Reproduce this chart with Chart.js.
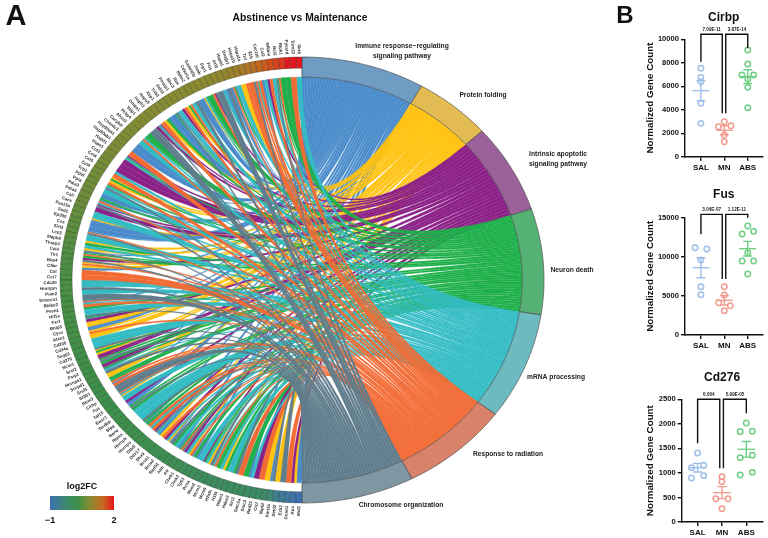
<!DOCTYPE html>
<html>
<head>
<meta charset="utf-8">
<title>Abstinence vs Maintenance</title>
<script src="https://cdn.jsdelivr.net/npm/chart.js@4"></script>
<style>
  body { margin: 0; background: #fff; }
  canvas { position: absolute; }
</style>
</head>
<body>
<canvas id="chord" width="640" height="538" style="left:0;top:0"></canvas>
<canvas id="cirbp" width="128" height="180" style="left:640px;top:0"></canvas>
<canvas id="fus" width="128" height="180" style="left:640px;top:180px"></canvas>
<canvas id="cd276" width="128" height="180" style="left:640px;top:358px"></canvas>
<script>
// Panel A data
const termNames = [
    ['Immune response\u2212regulating', 'signaling pathway'],
    ['Protein folding'],
    ['Intrinsic apoptotic', 'signaling pathway'],
    ['Neuron death'],
    ['mRNA processing'],
    ['Response to radiation'],
    ['Chromosome organization']
];
const termSpans = [29.6, 18.5, 23.3, 27.6, 28, 26, 27];
const termCodes = ['b', 'y', 'p', 'g', 't', 'o', 's'];

const geneNames = [
    'Sirt6','Trim32','Pycard','Ripk1','Bcl3','Nfkbia','Ccl2','Cxcl10','Il1b','Tnf',
    'Hspa1a','Hspa1b','Dnajb1','Hspb1','Atf3','Fos','Egr1','Junb','Gadd45b','Cdkn1a',
    'Mdm2','Bax','Bbc3','Pmaip1','Ddit3','Trib3','Xbp1','Hspa5','Hsph1','Dnaja1',
    'Stip1','Fkbp4','Ahsa1','Cacybp','Chordc1','Hsp90aa1','Hsp90ab1','Hspd1','Hspe1','Cct3',
    'Cct4','Cct5','Cct8','Tcp1','Ppid','Ppia','Pdia3','Pdia6','Calr','Canx',
    'Pea15a','Sod2','Ep300','Ccs','Sirt3','Lcp2','Mapk8','Thrap3','Ccl4','Tlr1',
    'Bbs4','Cflar','Cat','Cct7','Cdc20','Hnrnpm','Pum2','Smarca1','Bhlhe2','Psen1',
    'Hif1a','Fxr1','Bnip3','Cycs','Atxn1','Cd200','Cd24a','Sugp1','Cd276','Ncor1',
    'Srsf2','Psip1','Hnrnpa1','Snrpd1','Srsf5','Sf3b1','Rbm3','Cirbp','Fus','Taf15',
    'Ewsr1','Tardbp','Sfpq','Nono','Rbmx','Hnrnpk','Hnrnpu','Ddx5','Ddx17','Dhx9',
    'Brca1','Brca2','Rad51','Atm','Atr','Chek1','Chek2','Tp53','Pcna','Mcm2',
    'Mcm3','Mcm5','H2afx','H1f0','Hdac1','Hdac2','Sirt1','Smc1a','Smc3','Rad21',
    'Ctcf','Nipbl','Kmt2a','Setd2','Ezh2','Dnmt1','Atrx','Mcl1'
];

const geneFC = [
    2.0,2.0,2.0,1.8,1.72,1.65,1.55,1.45,1.35,1.25,
    1.18,1.1,1.05,1.0,0.96,0.95,0.94,0.93,0.92,0.91,
    0.9,0.9,0.89,0.89,0.88,0.88,0.87,0.87,0.86,0.86,
    0.85,0.84,0.83,0.82,0.81,0.8,0.79,0.78,0.77,0.76,
    0.75,0.74,0.73,0.72,0.71,0.7,0.69,0.68,0.66,0.64,
    0.62,0.6,0.58,0.56,0.54,0.52,0.5,0.48,0.46,0.44,
    0.42,0.41,0.41,0.4,0.4,0.39,0.39,0.38,0.38,0.37,
    0.37,0.36,0.36,0.35,0.35,0.34,0.34,0.33,0.33,0.32,
    0.32,0.31,0.31,0.3,0.3,0.29,0.29,0.28,0.28,0.27,
    0.27,0.26,0.26,0.25,0.25,0.24,0.24,0.23,0.22,0.21,
    0.2,0.18,0.16,0.14,0.12,0.1,0.08,0.06,0.04,0.02,
    0.0,-0.01,-0.02,-0.03,-0.04,-0.05,-0.06,-0.07,-0.09,-0.12,
    -0.15,-0.2,-0.3,-0.6,-0.7,-0.8,-0.9,-1.0
];

// which terms every gene links to, top of the circle to the bottom
const geneTerms = [
    't','o','g','g','ogst','to','pt','bo','tos','o',
    'oy','yt','tbgo','bs','bt','s','spo','g','gtyb','b',
    'st','tog','yo','pt','tbsg','b','bg','yo','opts','ps',
    's','g','gto','t','b','b','o','pbgt','p','p',
    'p','to','oyg','yo','gts','t','b','gbo','tps','p',
    't','tyb','b','b','bost','t','yg','ty','sbgo','gp',
    'syo','yb','o','o','t','ts','t','s','sobt','og',
    't','tsgb','py','yb','byo','y','t','t','syg','yp',
    'pgs','gp','pgbt','sy','yg','gob','os','s','otby','t',
    'pb','bgs','gt','t','t','sgb','go','to','pst','by',
    'op','tyb','sg','tb','gos','pt','yob','gb','t','pgt',
    'ys','tog','gt','yg','t','gs','o','g','bt','p',
    'o','y','bs','y','s','o','py','b'
];

const ribbonColors = ['#4a8ccb', '#ffc20e', '#8c2287', '#1fb04b', '#33bcc4', '#f26b35', '#5f7d8c'];
const termColors = ['#6f9cc3', '#e2bc52', '#9a619b', '#56b175', '#6dbbc0', '#d9826a', '#7f97a2'];
const fcStops = [
    [-1, '#3f6fb0'], [-0.2, '#3d8a6a'], [0.3, '#3d9048'],
    [0.9, '#8a8b30'], [1.5, '#c9651f'], [2, '#e5161e']
];

// Panel B data
const groupLabels = ['SAL', 'MN', 'ABS'];
const groupColors = ['#9dbfe8', '#f09d90', '#6fcf85'];

const cirbpValues = [[7528, 6760, 6390, 4545, 2840], [2983, 2642, 2557, 1847, 1278], [9090, 7898, 6960, 6960, 6620, 5909, 4176]];
const cirbpJitter = [[0, 0, 0, 0, 0], [0, 0.28, -0.25, 0, 0], [0, 0, -0.25, 0.25, 0, 0, 0]];
const cirbpMeans = [5625, 2250, 6818];
const cirbpSems = [852, 380, 582];
const cirbpTicks = [0, 2000, 4000, 6000, 8000, 10000];
const cirbpBracket = [8097, 10426, 3693, 9233];
const cirbpP = ['7.09E-11', '3.87E-14'];

const fusValues = [[11165, 10994, 9588, 6179, 5156], [6179, 5114, 4133, 3750, 3111], [13935, 12912, 13253, 10525, 9460, 9460, 7798]];
const fusJitter = [[-0.25, 0.25, 0, 0, 0], [0, 0, -0.24, 0.25, 0], [0, -0.24, 0.25, 0, -0.24, 0.25, 0]];
const fusMeans = [8608, 4432, 11037];
const fusSems = [1278, 597, 938];
const fusTicks = [0, 5000, 10000, 15000];
const fusBracket = [12869, 15426, 7159, 15000];
const fusP = ['3.04E-07', '1.12E-11'];

const cdValues = [[1406, 1107, 1155, 897, 944], [924, 822, 475, 475, 272], [2018, 1841, 1848, 1311, 1359, 958, 1012]];
const cdJitter = [[0, -0.25, 0.25, -0.25, 0.25], [0, 0, -0.25, 0.25, 0], [0, -0.25, 0.25, -0.25, 0.25, -0.25, 0.25]];
const cdMeans = [1107, 598, 1481];
const cdSems = [88, 122, 160];
const cdTicks = [0, 500, 1000, 1500, 2000, 2500];
const cdBracket = [1603, 2500, 1094, 2215];
const cdP = ['0.004', '5.99E-05'];

const FONT = '"Liberation Sans", Arial, sans-serif';

// Circle helpers, degrees run clockwise from the top
function polar(r, deg) {
    const a = deg * Math.PI / 180;
    return { x: r * Math.sin(a), y: r * Math.cos(a) };
}

function arcPoints(r, from, to, step) {
    const pts = [];
    const n = Math.max(1, Math.ceil(Math.abs(to - from) / step));
    for (let i = 0; i <= n; i++) pts.push(polar(r, from + (to - from) * i / n));
    return pts;
}

// Quadratic curve through the centre of the circle
function curvePoints(p0, p1) {
    const pts = [];
    for (let i = 0; i <= 24; i++) {
        const t = i / 24;
        const a = (1 - t) * (1 - t), b = t * t;
        pts.push({ x: a * p0.x + b * p1.x, y: a * p0.y + b * p1.y });
    }
    return pts;
}

// tiny tension keeps Chart.js off its fast path, which merges points sharing a pixel column
function shapeDataset(points, fillColor, lineColor, lineWidth) {
    return {
        data: points,
        showLine: true,
        fill: 'shape',
        backgroundColor: fillColor,
        borderColor: lineColor,
        borderWidth: lineWidth,
        pointRadius: 0,
        tension: 0.0001,
        capBezierPoints: false,
        clip: false
    };
}

function hexToRgb(hex) {
    return [1, 3, 5].map(i => parseInt(hex.slice(i, i + 2), 16));
}

function fcColor(v) {
    for (let i = 1; i < fcStops.length; i++) {
        if (v <= fcStops[i][0]) {
            const t = (v - fcStops[i - 1][0]) / (fcStops[i][0] - fcStops[i - 1][0]);
            const a = hexToRgb(fcStops[i - 1][1]), b = hexToRgb(fcStops[i][1]);
            return `rgb(${a.map((c, k) => Math.round(c + (b[k] - c) * t)).join(',')})`;
        }
    }
    return fcStops[fcStops.length - 1][1];
}

const R_RIBBON = 0.91, R_GENE = 0.95;
const geneStep = 180 / geneTerms.length;

// Cut every term arc into one slice per linked gene
const termStarts = [];
termSpans.reduce((sum, s, i) => { termStarts[i] = sum; return sum + s; }, 0);

const termLinks = termCodes.map(() => []);
geneTerms.forEach((terms, g) => {
    [...terms].forEach((code, j) => {
        const top = 360 - (g + j / terms.length) * geneStep;
        const bottom = 360 - (g + (j + 1) / terms.length) * geneStep;
        termLinks[termCodes.indexOf(code)].push({ top, bottom });
    });
});

const chordSets = [];
// later terms sit on top
termLinks.forEach((links, k) => {
    const w = termSpans[k] / links.length;
    links.forEach((link, j) => {
        const t1 = termStarts[k] + j * w, t2 = t1 + w;
        const pts = [
            ...curvePoints(polar(R_RIBBON, link.top), polar(R_RIBBON, t1)),
            ...curvePoints(polar(R_RIBBON, t2), polar(R_RIBBON, link.bottom)),
            polar(R_RIBBON, link.top)
        ];
        chordSets.push(shapeDataset(pts, ribbonColors[k], ribbonColors[k], 0.35));
    });
});

termSpans.forEach((span, k) => {
    const from = termStarts[k], to = from + span;
    const pts = [...arcPoints(1, from, to, 1), ...arcPoints(R_RIBBON, to, from, 1)];
    pts.push(pts[0]);
    chordSets.push(shapeDataset(pts, termColors[k], '#4a4a4a', 0.7));
});

geneFC.forEach((v, g) => {
    const top = 360 - g * geneStep, bottom = top - geneStep;
    const pts = [polar(1, top), polar(1, bottom), polar(R_GENE, bottom), polar(R_GENE, top), polar(1, top)];
    chordSets.push(shapeDataset(pts, fcColor(v), 'rgba(30,40,30,0.6)', 0.5));
});

// Titles, term names, gene names and the colour key
const chordText = {
    id: 'chordText',
    afterDatasetsDraw(chart) {
        const { ctx, scales: { x, y } } = chart;
        const cx = x.getPixelForValue(0), cy = y.getPixelForValue(0);
        ctx.save();
        ctx.textBaseline = 'middle';

        ctx.fillStyle = '#2e2e2e';
        ctx.font = `bold 4.4px ${FONT}`;
        ctx.textAlign = 'right';
        geneNames.forEach((name, g) => {
            const p = polar(1.014, 360 - (g + 0.5) * geneStep);
            const px = x.getPixelForValue(p.x), py = y.getPixelForValue(p.y);
            ctx.save();
            ctx.translate(px, py);
            ctx.rotate(Math.atan2(py - cy, px - cx) - Math.PI);
            ctx.fillText(name, 0, 0);
            ctx.restore();
        });

        ctx.fillStyle = '#222';
        ctx.textAlign = 'center';
        ctx.font = `bold 6.7px ${FONT}`;
        const labelSpots = [[402, 46], [483, 95], [558, 154], [572, 270], [556, 377], [508, 454], [401, 505]];
        termNames.forEach((lines, k) => {
            lines.forEach((line, i) => {
                ctx.fillText(line, labelSpots[k][0], labelSpots[k][1] + i * 10.5);
            });
        });

        ctx.fillStyle = '#111';
        ctx.font = `bold 10.3px ${FONT}`;
        ctx.fillText('Abstinence vs Maintenance', 300, 18);
        ctx.font = `bold 29px ${FONT}`;
        ctx.fillText('A', 16, 17);
        ctx.font = `bold 24px ${FONT}`;
        ctx.fillText('B', 625, 16);

        ctx.font = `bold 9px ${FONT}`;
        ctx.fillText('log2FC', 82, 487);
        const grad = ctx.createLinearGradient(50, 0, 114, 0);
        fcStops.forEach(s => grad.addColorStop((s[0] + 1) / 3, s[1]));
        ctx.fillStyle = grad;
        ctx.fillRect(50, 496, 64, 14);
        ctx.fillStyle = '#111';
        ctx.fillText('\u22121', 50, 521);
        ctx.fillText('2', 114, 521);
        ctx.restore();
    }
};

new Chart(document.getElementById('chord'), {
    type: 'scatter',
    data: { datasets: chordSets.map((d, i) => ({ ...d, order: -i })) },
    options: {
        responsive: false,
        animation: false,
        events: [],
        layout: { padding: 0 },
        scales: {
            x: { display: false, min: -302 / 242, max: 338 / 242 },
            y: { display: false, min: -258 / 223, max: 280 / 223 }
        },
        plugins: {
            legend: { display: false },
            tooltip: { enabled: false },
            filler: { drawTime: 'beforeDatasetDraw' }
        }
    },
    plugins: [chordText]
});

// Panel B scatter with mean and SEM
function makeDotPanel(id, cfg) {
    const sets = [];
    const plain = { showLine: true, pointRadius: 0, tension: 0, fill: false, clip: false };

    sets.push({
        ...plain,
        data: [
            { x: 0, y: cfg.bracket[0] }, { x: 0, y: cfg.bracket[1] },
            { x: 0.91, y: cfg.bracket[1] }, { x: 0.91, y: cfg.bracket[2] }
        ],
        borderColor: '#111', borderWidth: 1.4
    });
    sets.push({
        ...plain,
        data: [
            { x: 1.06, y: cfg.bracket[2] }, { x: 1.06, y: cfg.bracket[1] },
            { x: 2, y: cfg.bracket[1] }, { x: 2, y: cfg.bracket[3] }
        ],
        borderColor: '#111', borderWidth: 1.4
    });

    cfg.values.forEach((vals, g) => {
        const m = cfg.means[g], s = cfg.sems[g];
        sets.push({
            data: vals.map((v, i) => ({ x: g + cfg.jitter[g][i], y: v })),
            showLine: false,
            pointRadius: 2.7,
            pointBackgroundColor: 'rgba(255,255,255,0)',
            pointBorderColor: groupColors[g],
            pointBorderWidth: 1.5,
            clip: false
        });
        sets.push({
            ...plain,
            data: [{ x: g - 0.36, y: m }, { x: g + 0.36, y: m }],
            borderColor: groupColors[g], borderWidth: 1.4
        });
        sets.push({
            ...plain,
            data: [
                { x: g - 0.19, y: m + s }, { x: g + 0.19, y: m + s }, { x: g, y: m + s },
                { x: g, y: m - s }, { x: g - 0.19, y: m - s }, { x: g + 0.19, y: m - s }
            ],
            borderColor: groupColors[g], borderWidth: 1.4
        });
    });

    const pLabels = {
        id: 'pLabels',
        afterDatasetsDraw(chart) {
            const { ctx, scales: { x, y } } = chart;
            ctx.save();
            ctx.font = `bold 4.6px ${FONT}`;
            ctx.fillStyle = '#222';
            ctx.textAlign = 'center';
            ctx.textBaseline = 'bottom';
            const top = y.getPixelForValue(cfg.bracket[1]) - 2.5;
            ctx.fillText(cfg.p[0], x.getPixelForValue(0.46), top);
            ctx.fillText(cfg.p[1], x.getPixelForValue(1.54), top);
            ctx.restore();
        }
    };

    new Chart(document.getElementById(id), {
        type: 'scatter',
        data: { datasets: sets },
        options: {
            responsive: false,
            animation: false,
            events: [],
            layout: { padding: 0 },
            scales: {
                x: {
                    min: cfg.xRange[0],
                    max: cfg.xRange[1],
                    afterBuildTicks: scale => { scale.ticks = [{ value: 0 }, { value: 1 }, { value: 2 }]; },
                    afterFit: scale => { scale.height = cfg.xHeight; },
                    border: { color: '#111', width: 1.4 },
                    grid: { drawOnChartArea: false, color: '#111', lineWidth: 1.4, tickLength: 4 },
                    ticks: {
                        callback: v => groupLabels[v],
                        autoSkip: false,
                        maxRotation: 0,
                        padding: 2,
                        color: '#111',
                        font: { family: FONT, size: 8, weight: 'bold' }
                    }
                },
                y: {
                    min: 0,
                    max: cfg.ticks[cfg.ticks.length - 1],
                    afterBuildTicks: scale => { scale.ticks = cfg.ticks.map(value => ({ value })); },
                    afterFit: scale => { scale.width = cfg.yWidth; },
                    border: { color: '#111', width: 1.4 },
                    grid: { drawOnChartArea: false, color: '#111', lineWidth: 1.4, tickLength: 4 },
                    title: {
                        display: true,
                        text: 'Normalized Gene Count',
                        color: '#111',
                        padding: { top: 4, bottom: 0 },
                        font: { family: FONT, size: 9.8, weight: 'bold' }
                    },
                    ticks: {
                        callback: v => String(v),
                        padding: 2,
                        color: '#111',
                        font: { family: FONT, size: 7.6, weight: 'bold' }
                    }
                }
            },
            plugins: {
                legend: { display: false },
                tooltip: { enabled: false },
                title: {
                    display: true,
                    text: cfg.title,
                    fullSize: false,
                    color: '#111',
                    padding: cfg.titlePad,
                    font: { family: FONT, size: 12, weight: 'bold' }
                }
            }
        },
        plugins: [pLabels]
    });
}

makeDotPanel('cirbp', {
    title: 'Cirbp', values: cirbpValues, jitter: cirbpJitter, means: cirbpMeans, sems: cirbpSems,
    ticks: cirbpTicks, bracket: cirbpBracket, p: cirbpP,
    xRange: [-0.68, 2.63], xHeight: 23.3, yWidth: 45, titlePad: { top: 10, bottom: 14.9 }
});
makeDotPanel('fus', {
    title: 'Fus', values: fusValues, jitter: fusJitter, means: fusMeans, sems: fusSems,
    ticks: fusTicks, bracket: fusBracket, p: fusP,
    xRange: [-0.68, 2.63], xHeight: 25, yWidth: 45, titlePad: { top: 7.8, bottom: 15.5 }
});
makeDotPanel('cd276', {
    title: 'Cd276', values: cdValues, jitter: cdJitter, means: cdMeans, sems: cdSems,
    ticks: cdTicks, bracket: cdBracket, p: cdP,
    xRange: [-0.653, 2.665], xHeight: 16, yWidth: 41.7, titlePad: { top: 12.8, bottom: 14.1 }
});
</script>
</body>
</html>
